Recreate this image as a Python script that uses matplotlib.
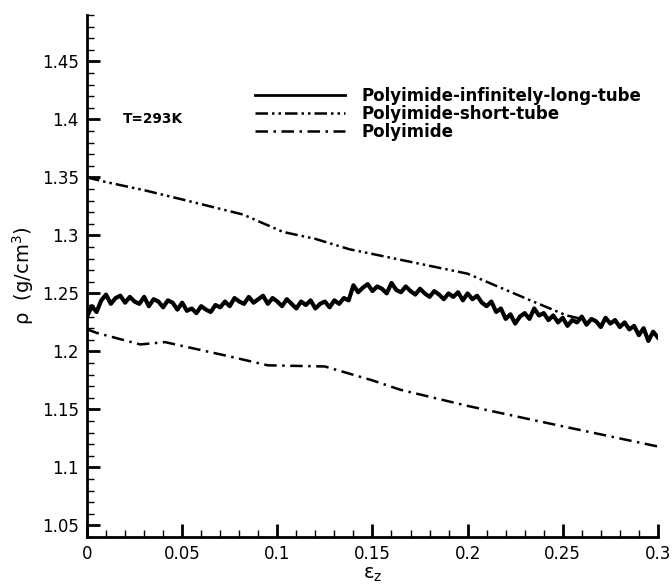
import numpy as np
import matplotlib.pyplot as plt
from matplotlib.ticker import MultipleLocator, FuncFormatter

plt.rcParams['font.family'] = ['DejaVu Sans']
plt.rcParams['mathtext.default'] = 'regular'

# infinitely-long tube (noisy MD trace), sampled every 0.0025 strain
long_x = np.linspace(0.0, 0.3, 121)
long_rho = [
    1.230, 1.239, 1.234, 1.244, 1.249, 1.241, 1.246, 1.248, 1.242, 1.247,
    1.243, 1.241, 1.247, 1.239, 1.245, 1.243, 1.238, 1.244, 1.242, 1.236,
    1.242, 1.235, 1.237, 1.233, 1.239, 1.236, 1.234, 1.240, 1.238, 1.243,
    1.239, 1.246, 1.243, 1.241, 1.247, 1.242, 1.245, 1.248, 1.241, 1.246,
    1.243, 1.239, 1.245, 1.241, 1.237, 1.243, 1.240, 1.244, 1.237, 1.241,
    1.243, 1.238, 1.244, 1.241, 1.246, 1.244, 1.257, 1.251, 1.255, 1.258,
    1.252, 1.256, 1.254, 1.250, 1.259, 1.253, 1.251, 1.256, 1.252, 1.249,
    1.254, 1.250, 1.247, 1.252, 1.249, 1.245, 1.250, 1.247, 1.251, 1.244,
    1.250, 1.245, 1.248, 1.242, 1.239, 1.243, 1.234, 1.237, 1.228, 1.232,
    1.224, 1.230, 1.233, 1.228, 1.237, 1.231, 1.233, 1.227, 1.231, 1.225,
    1.229, 1.222, 1.227, 1.225, 1.230, 1.223, 1.228, 1.226, 1.221, 1.229,
    1.224, 1.227, 1.221, 1.225, 1.219, 1.222, 1.214, 1.220, 1.209, 1.217,
    1.212,
]

# short tube
short_x = [0.0, 0.01, 0.03, 0.05, 0.082, 0.103, 0.12, 0.138, 0.15, 0.2, 0.233, 0.252, 0.26]
short_rho = [1.350, 1.346, 1.339, 1.331, 1.318, 1.303, 1.297, 1.288, 1.284, 1.267, 1.244, 1.231, 1.228]

# bulk polyimide
bulk_x = [0.0, 0.005, 0.028, 0.041, 0.074, 0.095, 0.125, 0.15, 0.1645, 0.2, 0.234, 0.3]
bulk_rho = [1.219, 1.216, 1.206, 1.208, 1.196, 1.188, 1.187, 1.175, 1.167, 1.153, 1.141, 1.118]

labels = ['Polyimide-infinitely-long-tube', 'Polyimide-short-tube', 'Polyimide']

fig = plt.figure(figsize=(6.72, 5.87), dpi=100)
ax = fig.add_axes([0.1295, 0.0852, 0.8495, 0.8892])

ax.plot(long_x, long_rho, color='black', lw=3.0, label=labels[0])
ax.plot(short_x, short_rho, color='black', lw=1.8,
        dashes=(5, 1.6, 1, 1.6, 1, 1.6), label=labels[1])
ax.plot(bulk_x, bulk_rho, color='black', lw=1.8,
        dashes=(5, 2.2, 1, 2.2), label=labels[2])

ax.set_xlim(0, 0.3)
ax.set_ylim(1.04, 1.49)

ax.spines['top'].set_visible(False)
ax.spines['right'].set_visible(False)
ax.spines['left'].set_linewidth(2)
ax.spines['bottom'].set_linewidth(2)

ax.xaxis.set_major_locator(MultipleLocator(0.05))
ax.xaxis.set_minor_locator(MultipleLocator(0.01))
ax.yaxis.set_major_locator(MultipleLocator(0.05))
ax.yaxis.set_minor_locator(MultipleLocator(0.01))
fmt = FuncFormatter(lambda v, p: f'{round(v, 3):g}')
ax.xaxis.set_major_formatter(fmt)
ax.yaxis.set_major_formatter(fmt)
ax.tick_params(which='major', direction='in', length=9.5, width=2, labelsize=12, pad=6)
ax.tick_params(which='minor', direction='in', length=5, width=1)

ax.set_xlabel('ε$_z$', fontsize=14, labelpad=1)
ax.set_ylabel('ρ  (g/cm$^3$)', fontsize=14, labelpad=4)

ax.text(0.019, 1.4, 'T=293K', fontsize=9.8, fontweight='bold', va='center', ha='left')

leg = ax.legend(loc='upper left', bbox_to_anchor=(0.294, 0.862), frameon=False,
                handlelength=5.4, handletextpad=1.0, labelspacing=0.0,
                borderaxespad=0, borderpad=0,
                prop={'size': 12, 'weight': 'bold'})
leg.get_lines()[0].set_linewidth(2.0)

fig.savefig('out.png', dpi=100)
